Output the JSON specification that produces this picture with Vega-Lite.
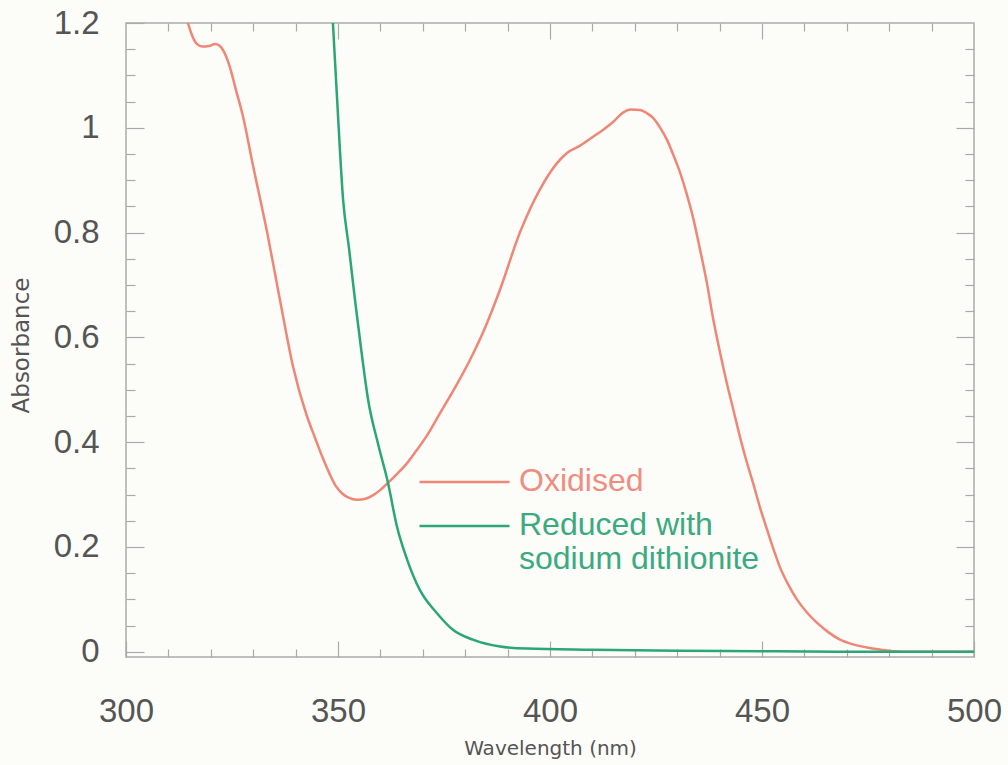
{
  "$schema": "https://vega.github.io/schema/vega-lite/v6.json",
  "width": 848,
  "height": 634,
  "autosize": {"type": "none"},
  "padding": {"left": 126, "top": 23, "right": 34, "bottom": 108},
  "background": "#fcfcf9",
  "config": {
    "view": {"stroke": "#aaaaaa", "strokeWidth": 1.5},
    "font": "Liberation Sans",
    "axis": {"domain": false, "grid": false, "tickColor": "#aaaaaa", "tickWidth": 1.2}
  },
  "data": {
    "values": [
      {"s": "Oxidised", "wl": 314.6, "A": 1.2},
      {"s": "Oxidised", "wl": 315.5, "A": 1.178},
      {"s": "Oxidised", "wl": 316.7, "A": 1.16},
      {"s": "Oxidised", "wl": 318, "A": 1.155},
      {"s": "Oxidised", "wl": 319.5, "A": 1.156},
      {"s": "Oxidised", "wl": 321, "A": 1.16},
      {"s": "Oxidised", "wl": 322, "A": 1.157},
      {"s": "Oxidised", "wl": 323, "A": 1.147},
      {"s": "Oxidised", "wl": 324.5, "A": 1.116},
      {"s": "Oxidised", "wl": 326, "A": 1.07},
      {"s": "Oxidised", "wl": 327.5, "A": 1.025},
      {"s": "Oxidised", "wl": 330, "A": 0.926},
      {"s": "Oxidised", "wl": 333.3, "A": 0.8},
      {"s": "Oxidised", "wl": 336.3, "A": 0.672},
      {"s": "Oxidised", "wl": 339.4, "A": 0.544},
      {"s": "Oxidised", "wl": 342.7, "A": 0.449},
      {"s": "Oxidised", "wl": 344.5, "A": 0.41},
      {"s": "Oxidised", "wl": 346.3, "A": 0.372},
      {"s": "Oxidised", "wl": 348, "A": 0.34},
      {"s": "Oxidised", "wl": 349.5, "A": 0.316},
      {"s": "Oxidised", "wl": 351, "A": 0.302},
      {"s": "Oxidised", "wl": 352.5, "A": 0.294},
      {"s": "Oxidised", "wl": 354.5, "A": 0.29},
      {"s": "Oxidised", "wl": 356.5, "A": 0.292},
      {"s": "Oxidised", "wl": 358.3, "A": 0.299},
      {"s": "Oxidised", "wl": 360, "A": 0.309},
      {"s": "Oxidised", "wl": 361.6, "A": 0.321},
      {"s": "Oxidised", "wl": 364, "A": 0.34},
      {"s": "Oxidised", "wl": 366.3, "A": 0.36},
      {"s": "Oxidised", "wl": 368.5, "A": 0.384},
      {"s": "Oxidised", "wl": 371, "A": 0.413},
      {"s": "Oxidised", "wl": 374.1, "A": 0.456},
      {"s": "Oxidised", "wl": 378, "A": 0.51},
      {"s": "Oxidised", "wl": 381, "A": 0.555},
      {"s": "Oxidised", "wl": 384.5, "A": 0.615},
      {"s": "Oxidised", "wl": 388.2, "A": 0.691},
      {"s": "Oxidised", "wl": 392.9, "A": 0.8},
      {"s": "Oxidised", "wl": 397.6, "A": 0.882},
      {"s": "Oxidised", "wl": 401.7, "A": 0.933},
      {"s": "Oxidised", "wl": 404, "A": 0.952},
      {"s": "Oxidised", "wl": 407.1, "A": 0.966},
      {"s": "Oxidised", "wl": 410, "A": 0.982},
      {"s": "Oxidised", "wl": 412.5, "A": 0.996},
      {"s": "Oxidised", "wl": 415, "A": 1.012},
      {"s": "Oxidised", "wl": 417.2, "A": 1.029},
      {"s": "Oxidised", "wl": 419, "A": 1.035},
      {"s": "Oxidised", "wl": 421.2, "A": 1.034},
      {"s": "Oxidised", "wl": 423, "A": 1.027},
      {"s": "Oxidised", "wl": 424.3, "A": 1.019},
      {"s": "Oxidised", "wl": 426, "A": 1.0},
      {"s": "Oxidised", "wl": 427.6, "A": 0.977},
      {"s": "Oxidised", "wl": 429, "A": 0.95},
      {"s": "Oxidised", "wl": 430.7, "A": 0.914},
      {"s": "Oxidised", "wl": 432.2, "A": 0.875},
      {"s": "Oxidised", "wl": 433.7, "A": 0.83},
      {"s": "Oxidised", "wl": 435.4, "A": 0.767},
      {"s": "Oxidised", "wl": 437, "A": 0.704},
      {"s": "Oxidised", "wl": 438.4, "A": 0.639},
      {"s": "Oxidised", "wl": 440, "A": 0.575},
      {"s": "Oxidised", "wl": 441.7, "A": 0.513},
      {"s": "Oxidised", "wl": 443.3, "A": 0.46},
      {"s": "Oxidised", "wl": 444.8, "A": 0.41},
      {"s": "Oxidised", "wl": 446.3, "A": 0.365},
      {"s": "Oxidised", "wl": 447.9, "A": 0.322},
      {"s": "Oxidised", "wl": 449.5, "A": 0.276},
      {"s": "Oxidised", "wl": 451.2, "A": 0.233},
      {"s": "Oxidised", "wl": 452.7, "A": 0.196},
      {"s": "Oxidised", "wl": 454.2, "A": 0.162},
      {"s": "Oxidised", "wl": 456.2, "A": 0.128},
      {"s": "Oxidised", "wl": 458.3, "A": 0.099},
      {"s": "Oxidised", "wl": 460.6, "A": 0.075},
      {"s": "Oxidised", "wl": 463, "A": 0.055},
      {"s": "Oxidised", "wl": 465.7, "A": 0.037},
      {"s": "Oxidised", "wl": 468.4, "A": 0.023},
      {"s": "Oxidised", "wl": 471.5, "A": 0.014},
      {"s": "Oxidised", "wl": 474.8, "A": 0.008},
      {"s": "Oxidised", "wl": 478, "A": 0.004},
      {"s": "Oxidised", "wl": 481, "A": 0.001},
      {"s": "Oxidised", "wl": 485, "A": 0.0},
      {"s": "Oxidised", "wl": 490, "A": 0.0},
      {"s": "Oxidised", "wl": 495, "A": 0.0},
      {"s": "Oxidised", "wl": 500, "A": 0.0},
      {"s": "Reduced", "wl": 348.8, "A": 1.2},
      {"s": "Reduced", "wl": 349.8, "A": 1.053},
      {"s": "Reduced", "wl": 351.2, "A": 0.863},
      {"s": "Reduced", "wl": 352.6, "A": 0.77},
      {"s": "Reduced", "wl": 354, "A": 0.672},
      {"s": "Reduced", "wl": 355.5, "A": 0.575},
      {"s": "Reduced", "wl": 357.1, "A": 0.481},
      {"s": "Reduced", "wl": 359.5, "A": 0.395},
      {"s": "Reduced", "wl": 361.8, "A": 0.322},
      {"s": "Reduced", "wl": 363.9, "A": 0.239},
      {"s": "Reduced", "wl": 366.3, "A": 0.176},
      {"s": "Reduced", "wl": 369.3, "A": 0.118},
      {"s": "Reduced", "wl": 373.3, "A": 0.074},
      {"s": "Reduced", "wl": 377.1, "A": 0.042},
      {"s": "Reduced", "wl": 381.8, "A": 0.023},
      {"s": "Reduced", "wl": 388.2, "A": 0.01},
      {"s": "Reduced", "wl": 394.6, "A": 0.006},
      {"s": "Reduced", "wl": 410, "A": 0.004},
      {"s": "Reduced", "wl": 430, "A": 0.002},
      {"s": "Reduced", "wl": 450, "A": 0.001},
      {"s": "Reduced", "wl": 470, "A": 0.0},
      {"s": "Reduced", "wl": 500, "A": 0.0}
    ]
  },
  "layer": [
    {
      "mark": {"type": "line", "strokeWidth": 2.5, "clip": true, "interpolate": "monotone"},
      "encoding": {
        "x": {
          "field": "wl", "type": "quantitative",
          "scale": {"domain": [300, 500], "nice": false, "zero": false},
          "axis": {
            "orient": "bottom", "values": [300, 350, 400, 450, 500], "tickSize": -16,
            "labelPadding": 54, "labelFontSize": 33, "labelColor": "#555555", "labelFlush": false,
            "labelOverlap": false, "format": "d",
            "title": "Wavelength (nm)", "titleFont": "DejaVu Sans", "titleFontSize": 20, "titleFontWeight": "normal",
            "titleColor": "#555555", "titleX": 424, "titleY": 91, "titleBaseline": "middle", "titleAlign": "center"
          }
        },
        "y": {
          "field": "A", "type": "quantitative",
          "scale": {"domain": [-0.01, 1.2], "nice": false, "zero": false},
          "axis": {
            "orient": "left", "values": [0, 0.2, 0.4, 0.6, 0.8, 1, 1.2], "tickSize": -18,
            "labelPadding": 45, "labelFontSize": 33, "labelColor": "#555555", "labelFlush": false,
            "labelOverlap": false, "format": "~g",
            "title": "Absorbance", "titleFont": "DejaVu Sans", "titleFontSize": 23, "titleFontWeight": "normal",
            "titleColor": "#555555", "titleX": -105, "titleY": 322, "titleBaseline": "middle",
            "titleAlign": "center", "titleAngle": -90
          }
        },
        "color": {
          "field": "s", "type": "nominal",
          "scale": {"domain": ["Oxidised", "Reduced"], "range": ["#ef8676", "#2aa678"]},
          "legend": {
            "orient": "none", "legendX": 292, "legendY": 443, "title": null, "padding": 0,
            "symbolType": "stroke", "symbolSize": 8100, "symbolStrokeWidth": 2.5,
            "labelFontSize": 32, "labelOffset": 8, "labelLimit": 500, "rowPadding": 12,
            "labelBaseline": "top", "lineHeight": 35,
            "labelExpr": "datum.label == 'Reduced' ? ['Reduced with', 'sodium dithionite'] : datum.label",
            "encode": {
              "symbols": {"update": {"y": {"value": 16}}},
              "labels": {"update": {
                "y": {"value": 16},
                "dy": {"value": -16},
                "fill": {"signal": "datum.value == 'Oxidised' ? '#ef8e80' : '#3aaa80'"}
              }}
            }
          }
        }
      }
    },
    {
      "mark": {"type": "line", "strokeOpacity": 0},
      "encoding": {
        "x": {"field": "wl", "type": "quantitative",
          "axis": {"orient": "bottom", "values": [310, 320, 330, 340, 360, 370, 380, 390, 410, 420, 430, 440, 460, 470, 480, 490], "tickSize": -8, "labels": false, "title": null}},
        "y": {"field": "A", "type": "quantitative",
          "axis": {"orient": "left", "values": [0.05, 0.1, 0.15, 0.25, 0.3, 0.35, 0.45, 0.5, 0.55, 0.65, 0.7, 0.75, 0.85, 0.9, 0.95, 1.05, 1.1, 1.15], "tickSize": -9, "labels": false, "title": null}}
      }
    },
    {
      "mark": {"type": "line", "strokeOpacity": 0},
      "encoding": {
        "x": {"field": "wl", "type": "quantitative",
          "axis": {"orient": "top", "values": [350, 400, 450], "tickSize": -16, "labels": false, "title": null}},
        "y": {"field": "A", "type": "quantitative",
          "axis": {"orient": "right", "values": [0, 0.2, 0.4, 0.6, 0.8, 1], "tickSize": -18, "labels": false, "title": null}}
      }
    },
    {
      "mark": {"type": "line", "strokeOpacity": 0},
      "encoding": {
        "x": {"field": "wl", "type": "quantitative",
          "axis": {"orient": "top", "values": [310, 320, 330, 340, 360, 370, 380, 390, 410, 420, 430, 440, 460, 470, 480, 490], "tickSize": -8, "labels": false, "title": null}},
        "y": {"field": "A", "type": "quantitative",
          "axis": {"orient": "right", "values": [0.05, 0.1, 0.15, 0.25, 0.3, 0.35, 0.45, 0.5, 0.55, 0.65, 0.7, 0.75, 0.85, 0.9, 0.95, 1.05, 1.1, 1.15], "tickSize": -9, "labels": false, "title": null}}
      }
    }
  ],
  "resolve": {"axis": {"x": "independent", "y": "independent"}}
}
